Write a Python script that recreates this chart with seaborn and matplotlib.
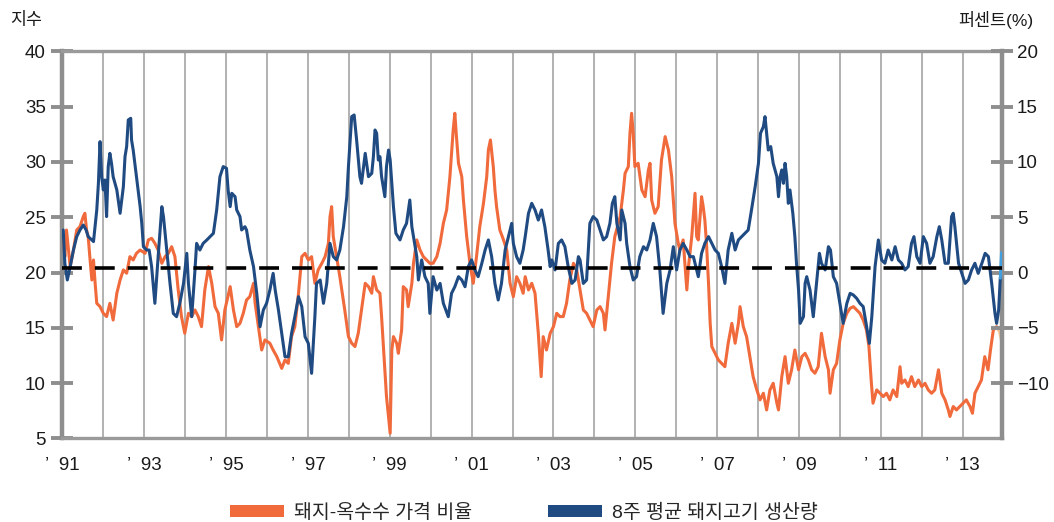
import matplotlib
matplotlib.use("Agg")
import matplotlib.pyplot as plt
import seaborn as sns
import pandas as pd
from matplotlib.patches import Patch

# ---------------- data ----------------
pig_years = [
    1991.02, 1991.06, 1991.10, 1991.15, 1991.19, 1991.27, 1991.35, 1991.43, 1991.51, 1991.55,
    1991.59, 1991.63, 1991.67, 1991.72, 1991.76, 1991.80, 1991.84, 1991.92, 1992.00, 1992.08,
    1992.16, 1992.24, 1992.33, 1992.41, 1992.49, 1992.57, 1992.65, 1992.73, 1992.81, 1992.90,
    1993.02, 1993.10, 1993.18, 1993.26, 1993.34, 1993.43, 1993.51, 1993.59, 1993.67, 1993.75,
    1993.83, 1993.91, 1993.99, 1994.08, 1994.16, 1994.24, 1994.32, 1994.40, 1994.48, 1994.57,
    1994.65, 1994.73, 1994.81, 1994.89, 1994.97, 1995.10, 1995.18, 1995.26, 1995.34, 1995.42,
    1995.50, 1995.58, 1995.67, 1995.71, 1995.79, 1995.87, 1995.95, 1996.07, 1996.15, 1996.24,
    1996.36, 1996.44, 1996.52, 1996.60, 1996.68, 1996.77, 1996.85, 1996.93, 1997.01, 1997.09,
    1997.17, 1997.25, 1997.34, 1997.42, 1997.50, 1997.54, 1997.58, 1997.62, 1997.70, 1997.78,
    1997.90, 1997.99, 1998.07, 1998.15, 1998.23, 1998.31, 1998.40, 1998.48, 1998.56, 1998.60,
    1998.68, 1998.76, 1998.80, 1998.88, 1998.92, 1998.97, 1999.01, 1999.05, 1999.09, 1999.17,
    1999.21, 1999.29, 1999.33, 1999.41, 1999.45, 1999.54, 1999.58, 1999.66, 1999.74, 1999.82,
    1999.90, 1999.98, 2000.06, 2000.15, 2000.23, 2000.31, 2000.39, 2000.47, 2000.55, 2000.59,
    2000.63, 2000.68, 2000.76, 2000.80, 2000.88, 2000.96, 2001.04, 2001.12, 2001.20, 2001.29,
    2001.37, 2001.41, 2001.46, 2001.53, 2001.57, 2001.61, 2001.69, 2001.78, 2001.86, 2001.94,
    2002.02, 2002.10, 2002.18, 2002.26, 2002.31, 2002.39, 2002.47, 2002.55, 2002.63, 2002.70,
    2002.75, 2002.83, 2002.92, 2003.00, 2003.08, 2003.16, 2003.24, 2003.32, 2003.40, 2003.49,
    2003.57, 2003.65, 2003.73, 2003.81, 2003.89, 2003.97, 2004.06, 2004.14, 2004.22, 2004.26,
    2004.34, 2004.42, 2004.50, 2004.63, 2004.71, 2004.75, 2004.83, 2004.87, 2004.91, 2004.95,
    2004.99, 2005.07, 2005.16, 2005.24, 2005.32, 2005.36, 2005.40, 2005.48, 2005.56, 2005.64,
    2005.73, 2005.81, 2005.89, 2005.97, 2006.05, 2006.09, 2006.17, 2006.26, 2006.30, 2006.38,
    2006.46, 2006.50, 2006.54, 2006.62, 2006.66, 2006.70, 2006.74, 2006.79, 2006.83, 2006.87,
    2006.95, 2007.03, 2007.11, 2007.19, 2007.27, 2007.36, 2007.44, 2007.52, 2007.56, 2007.64,
    2007.72, 2007.80, 2007.88, 2007.97, 2008.05, 2008.13, 2008.21, 2008.29, 2008.37, 2008.46,
    2008.50, 2008.58, 2008.66, 2008.74, 2008.82, 2008.90, 2008.99, 2009.07, 2009.15, 2009.23,
    2009.31, 2009.39, 2009.47, 2009.55, 2009.64, 2009.72, 2009.76, 2009.84, 2009.92, 2010.00,
    2010.08, 2010.17, 2010.25, 2010.33, 2010.41, 2010.49, 2010.57, 2010.65, 2010.71, 2010.77,
    2010.81, 2010.90, 2010.98, 2011.06, 2011.14, 2011.22, 2011.30, 2011.39, 2011.47, 2011.51,
    2011.59, 2011.67, 2011.75, 2011.83, 2011.92, 2012.00, 2012.08, 2012.16, 2012.24, 2012.32,
    2012.41, 2012.49, 2012.57, 2012.65, 2012.69, 2012.77, 2012.85, 2012.93, 2013.01, 2013.09,
    2013.18, 2013.24, 2013.30, 2013.38, 2013.46, 2013.54, 2013.62, 2013.68, 2013.75, 2013.83,
    2013.89,
]
pig_ratio = [
    23.25, 21.44, 23.85, 22.04, 20.54, 22.04, 23.85, 24.15, 25.06, 25.36,
    23.85, 23.25, 21.44, 19.33, 21.14, 19.03, 17.22, 16.92, 16.32, 16.02,
    17.22, 15.71, 18.13, 19.33, 20.24, 19.94, 21.44, 21.14, 21.74, 22.04,
    21.74, 22.95, 23.10, 22.65, 22.04, 20.84, 21.44, 21.74, 22.34, 21.44,
    18.43, 16.02, 14.51, 16.32, 16.02, 16.62, 16.02, 15.11, 18.43, 20.54,
    19.03, 16.92, 16.32, 13.91, 16.62, 18.73, 16.62, 15.11, 15.41, 16.32,
    17.52, 17.82, 19.03, 17.22, 15.11, 13.00, 13.91, 13.61, 13.00, 12.40,
    11.34, 12.10, 11.79, 14.21, 15.11, 18.13, 21.44, 21.74, 21.14, 21.44,
    19.03, 20.24, 20.84, 21.44, 22.65, 25.06, 25.96, 23.25, 21.44, 19.63,
    16.62, 14.21, 13.61, 13.31, 14.51, 16.62, 19.03, 18.73, 18.13, 19.63,
    18.43, 18.13, 16.02, 11.21, 8.80, 6.99, 5.47, 13.00, 14.21, 13.61,
    12.70, 14.81, 18.73, 18.43, 16.92, 19.03, 20.84, 22.95, 22.04, 21.44,
    21.14, 20.84, 20.84, 21.44, 22.65, 24.45, 25.66, 28.67, 32.89, 34.40,
    32.29, 29.88, 28.67, 26.56, 23.25, 20.84, 19.03, 21.44, 24.15, 26.26,
    28.67, 31.08, 31.99, 29.58, 27.47, 25.96, 23.85, 22.95, 22.04, 19.03,
    17.82, 19.63, 19.03, 18.13, 19.63, 18.43, 19.03, 18.13, 14.51, 10.59,
    14.21, 13.00, 14.51, 15.11, 16.32, 16.02, 16.02, 17.22, 19.33, 20.84,
    20.24, 18.43, 16.62, 16.32, 15.71, 15.11, 16.62, 16.92, 16.32, 14.81,
    17.82, 20.84, 23.25, 25.06, 27.47, 28.97, 29.58, 32.59, 34.40, 32.59,
    29.58, 29.88, 27.47, 26.86, 29.27, 29.88, 26.56, 25.36, 25.96, 30.18,
    32.29, 31.08, 28.67, 24.45, 22.65, 22.04, 22.95, 18.43, 20.54, 23.25,
    27.17, 23.25, 22.95, 26.86, 25.96, 24.75, 22.65, 19.03, 15.41, 13.31,
    12.70, 12.10, 11.79, 11.49, 13.61, 15.41, 13.61, 15.41, 16.92, 15.11,
    14.21, 12.40, 10.59, 9.39, 8.49, 9.09, 7.58, 9.39, 9.99, 8.19,
    7.58, 10.59, 12.40, 9.99, 11.21, 13.00, 11.21, 12.40, 12.70, 12.10,
    11.21, 10.90, 11.49, 14.51, 12.40, 11.21, 9.09, 11.21, 11.79, 13.91,
    15.41, 16.32, 16.77, 16.92, 16.62, 16.32, 15.71, 14.81, 13.31, 9.99,
    8.19, 9.39, 9.09, 8.79, 9.09, 8.49, 9.39, 8.79, 11.49, 9.99,
    10.29, 9.69, 10.59, 9.69, 10.29, 9.69, 9.99, 9.39, 9.09, 9.39,
    11.21, 9.09, 8.49, 7.58, 6.99, 7.89, 7.58, 7.89, 8.19, 8.49,
    7.89, 7.28, 9.09, 9.69, 10.29, 12.40, 11.21, 13.00, 14.81, 15.11,
    14.81,
]
pig_tail_years = [2013.89, 2013.95]
pig_tail_ratio = [14.81, 13.90]

prod_years = [
    1991.02, 1991.06, 1991.12, 1991.19, 1991.27, 1991.35, 1991.43, 1991.51, 1991.58, 1991.63,
    1991.72, 1991.76, 1991.84, 1991.88, 1991.92, 1991.96, 1992.00, 1992.04, 1992.08, 1992.12,
    1992.16, 1992.20, 1992.24, 1992.33, 1992.41, 1992.49, 1992.53, 1992.57, 1992.61, 1992.67,
    1992.69, 1992.73, 1992.81, 1992.90, 1992.94, 1992.98, 1993.06, 1993.12, 1993.18, 1993.26,
    1993.34, 1993.43, 1993.47, 1993.55, 1993.63, 1993.71, 1993.79, 1993.87, 1993.96, 1994.04,
    1994.08, 1994.16, 1994.24, 1994.28, 1994.36, 1994.44, 1994.53, 1994.61, 1994.69, 1994.77,
    1994.85, 1994.93, 1995.01, 1995.05, 1995.10, 1995.14, 1995.22, 1995.26, 1995.34, 1995.38,
    1995.46, 1995.50, 1995.58, 1995.67, 1995.75, 1995.83, 1995.91, 1995.99, 1996.07, 1996.15,
    1996.20, 1996.28, 1996.36, 1996.44, 1996.52, 1996.60, 1996.68, 1996.77, 1996.85, 1996.93,
    1997.01, 1997.09, 1997.17, 1997.21, 1997.30, 1997.38, 1997.46, 1997.54, 1997.62, 1997.70,
    1997.78, 1997.87, 1997.95, 1997.99, 1998.07, 1998.13, 1998.19, 1998.27, 1998.31, 1998.40,
    1998.48, 1998.56, 1998.60, 1998.64, 1998.68, 1998.72, 1998.76, 1998.80, 1998.88, 1998.92,
    1998.97, 1999.01, 1999.05, 1999.09, 1999.15, 1999.25, 1999.33, 1999.41, 1999.49, 1999.54,
    1999.58, 1999.66, 1999.70, 1999.78, 1999.86, 1999.94, 1999.98, 2000.06, 2000.15, 2000.23,
    2000.31, 2000.43, 2000.51, 2000.59, 2000.68, 2000.76, 2000.84, 2000.92, 2001.00, 2001.08,
    2001.16, 2001.25, 2001.33, 2001.41, 2001.49, 2001.57, 2001.65, 2001.73, 2001.82, 2001.90,
    2001.98, 2002.02, 2002.10, 2002.18, 2002.26, 2002.31, 2002.39, 2002.47, 2002.55, 2002.63,
    2002.71, 2002.79, 2002.87, 2002.92, 2002.96, 2003.04, 2003.12, 2003.20, 2003.28, 2003.36,
    2003.45, 2003.53, 2003.61, 2003.65, 2003.73, 2003.81, 2003.89, 2003.97, 2004.06, 2004.14,
    2004.22, 2004.30, 2004.38, 2004.44, 2004.50, 2004.55, 2004.63, 2004.67, 2004.75, 2004.79,
    2004.87, 2004.95, 2005.03, 2005.11, 2005.20, 2005.28, 2005.36, 2005.44, 2005.52, 2005.60,
    2005.68, 2005.77, 2005.85, 2005.93, 2006.01, 2006.09, 2006.17, 2006.26, 2006.34, 2006.42,
    2006.50, 2006.54, 2006.62, 2006.70, 2006.79, 2006.87, 2006.95, 2007.03, 2007.11, 2007.19,
    2007.27, 2007.36, 2007.44, 2007.52, 2007.60, 2007.68, 2007.76, 2007.84, 2007.93, 2008.01,
    2008.06, 2008.13, 2008.17, 2008.21, 2008.25, 2008.31, 2008.37, 2008.46, 2008.50, 2008.54,
    2008.58, 2008.62, 2008.66, 2008.70, 2008.74, 2008.78, 2008.85, 2008.90, 2008.94, 2008.99,
    2009.03, 2009.11, 2009.15, 2009.19, 2009.27, 2009.35, 2009.43, 2009.50, 2009.55, 2009.64,
    2009.72, 2009.77, 2009.84, 2009.92, 2010.00, 2010.08, 2010.17, 2010.25, 2010.33, 2010.41,
    2010.49, 2010.57, 2010.64, 2010.72, 2010.78, 2010.86, 2010.94, 2011.02, 2011.10, 2011.18,
    2011.27, 2011.35, 2011.43, 2011.51, 2011.59, 2011.67, 2011.75, 2011.81, 2011.88, 2011.96,
    2012.04, 2012.12, 2012.20, 2012.28, 2012.37, 2012.43, 2012.49, 2012.57, 2012.65, 2012.73,
    2012.77, 2012.81, 2012.90, 2012.98, 2013.06, 2013.14, 2013.22, 2013.30, 2013.38, 2013.47,
    2013.55, 2013.63, 2013.71, 2013.79, 2013.83, 2013.88, 2013.92,
]
prod_pct = [
    3.85, 0.84, -0.67, 0.54, 2.04, 3.25, 3.85, 4.30, 3.85, 3.25,
    2.95, 2.80, 5.66, 8.07, 11.84, 8.67, 7.47, 8.37, 5.06, 9.58,
    10.78, 9.88, 8.67, 7.47, 5.36, 7.77, 10.48, 11.39, 13.80, 13.95,
    11.99, 11.08, 8.67, 5.96, 4.45, 2.34, 2.04, 2.04, 0.54, -2.78,
    1.44, 5.96, 5.06, 2.04, -0.98, -3.69, -3.99, -2.78, -0.98, 1.74,
    -0.98, -3.99, 0.24, 2.64, 2.04, 2.64, 2.95, 3.25, 3.55, 5.66,
    8.67, 9.58, 9.43, 7.47, 5.96, 7.17, 6.86, 5.66, 5.06, 3.85,
    4.15, 3.85, 2.04, 0.54, -1.88, -4.90, -3.39, -2.78, -1.58, -0.07,
    -1.58, -3.39, -5.50, -7.61, -7.61, -5.50, -3.99, -2.18, -3.08, -5.80,
    -6.40, -9.11, -3.99, -0.98, -0.67, -2.78, -0.98, 2.64, 1.44, 1.14,
    2.04, 4.15, 6.86, 9.58, 14.10, 14.25, 11.99, 8.67, 8.07, 10.78,
    8.67, 8.97, 10.48, 12.89, 12.59, 10.18, 10.48, 8.67, 6.86, 9.58,
    11.08, 10.18, 8.07, 5.96, 3.55, 2.95, 3.85, 4.45, 6.56, 4.15,
    3.25, 1.44, -0.67, 1.14, -0.37, -0.98, -3.69, -0.37, -1.58, -0.98,
    -2.78, -3.99, -1.88, -1.28, -0.37, -0.67, -1.28, 0.54, 1.14, 0.24,
    -0.37, 0.84, 2.04, 2.95, 1.44, -0.98, -2.48, -0.98, 2.04, 3.25,
    4.45, 2.64, 1.44, 0.84, 2.04, 3.25, 5.36, 6.26, 5.66, 4.75,
    5.66, 4.15, 2.04, 0.54, 1.14, 0.24, 2.64, 2.95, 2.34, 0.54,
    -0.98, -0.67, 1.44, 1.14, -0.98, -0.67, 4.45, 5.06, 4.75, 3.85,
    2.95, 3.25, 4.45, 6.26, 6.86, 4.45, 2.95, 5.66, 4.45, 2.64,
    0.54, -0.67, -0.37, 1.44, 2.34, 2.04, 2.95, 4.45, 3.25, 0.24,
    -3.69, -0.98, 0.24, 2.34, 0.24, 2.04, 2.64, 2.04, 1.44, 1.44,
    0.24, -0.37, 1.74, 2.64, 3.25, 2.64, 2.04, 1.74, 0.54, -0.98,
    2.04, 3.55, 2.04, 2.95, 3.25, 3.55, 3.85, 5.66, 7.77, 9.88,
    12.59, 13.19, 14.10, 12.59, 11.08, 11.39, 9.88, 8.67, 6.86, 8.67,
    9.28, 8.07, 9.88, 8.67, 6.26, 7.47, 5.36, 3.25, 0.84, -1.58,
    -4.59, -3.99, -0.98, -0.37, -1.58, -3.99, -0.98, 1.74, 0.84, 0.24,
    2.34, 2.04, -0.37, -0.98, -2.78, -4.59, -2.78, -1.88, -2.03, -2.33,
    -2.78, -3.08, -4.59, -6.40, -3.99, 0.54, 2.95, 1.14, 0.84, 2.04,
    1.14, 2.34, 1.14, 0.84, 0.24, 0.54, 2.64, 3.25, 1.44, 0.84,
    3.25, 2.64, 0.84, 1.44, 3.25, 4.15, 2.95, 0.84, 0.84, 5.06,
    5.36, 4.15, 0.84, -0.07, -0.98, -0.67, 0.24, 0.84, -0.07, 0.84,
    1.74, 1.44, -0.98, -3.69, -4.59, -3.39, -0.50,
]
prod_tail_years = [2013.92, 2013.95]
prod_tail_pct = [-0.50, 1.80]

baseline_pct = 0.45

left_ticks = [5, 10, 15, 20, 25, 30, 35, 40]
right_ticks = [-10, -5, 0, 5, 10, 15, 20]
year_ticks = list(range(1991, 2014))
year_labels = ["\u2019  %02d" % (y % 100) if y % 2 == 1 else "" for y in year_ticks]
legend_labels = ["돼지-옥수수 가격 비율", "8주 평균 돼지고기 생산량"]
left_title = "지수"
right_title = "퍼센트(%)"

# ---------------- style ----------------
ORANGE = "#F06A3C"
NAVY = "#1F4B82"
ORANGE_TAIL = "#F7C79A"
NAVY_TAIL = "#42A0E0"
SPINE = "#8E8E8E"
GRID = "#ABABAB"

sns.set_style("white")
plt.rcParams["font.family"] = ["Liberation Sans", "Noto Sans CJK KR", "DejaVu Sans"]
plt.rcParams["axes.unicode_minus"] = True

fig = plt.figure(figsize=(10.54, 5.22), dpi=100)
ax = fig.add_axes([0.0592, 0.1600, 0.8912, 0.7416])
ax2 = ax.twinx()

pig_df = pd.DataFrame({"year": pig_years, "ratio": pig_ratio})
prod_df = pd.DataFrame({"year": prod_years, "pct": prod_pct})
pig_tail_df = pd.DataFrame({"year": pig_tail_years, "ratio": pig_tail_ratio})
prod_tail_df = pd.DataFrame({"year": prod_tail_years, "pct": prod_tail_pct})

sns.lineplot(data=pig_df, x="year", y="ratio", ax=ax, color=ORANGE, lw=2.2,
             estimator=None, sort=False, legend=False, zorder=3)
sns.lineplot(data=pig_tail_df, x="year", y="ratio", ax=ax, color=ORANGE_TAIL, lw=2.2,
             estimator=None, sort=False, legend=False, zorder=3)
sns.lineplot(data=prod_df, x="year", y="pct", ax=ax2, color=NAVY, lw=2.2,
             estimator=None, sort=False, legend=False, zorder=3)
sns.lineplot(data=prod_tail_df, x="year", y="pct", ax=ax2, color=NAVY_TAIL, lw=2.2,
             estimator=None, sort=False, legend=False, zorder=3)
ax2.axhline(baseline_pct, color="black", lw=2.6, dashes=(5.5, 3.6), zorder=5)

ax.set_xlim(1991, 2013.955)
ax.set_ylim(5, 40)
ax2.set_ylim(-15, 20)
for a in (ax, ax2):
    a.set_xlabel("")
    a.set_ylabel("")

ax.set_xticks(year_ticks)
ax.set_xticklabels(year_labels)
ax.set_yticks(left_ticks)
ax2.set_yticks(right_ticks)

ax.grid(False)
ax2.grid(False)
ax.xaxis.grid(True, color=GRID, lw=1.3)

ax.tick_params(axis="x", direction="out", length=6, width=1.3, color=GRID,
               labelsize=13.5, pad=7, labelcolor="#1a1a1a")
ax.tick_params(axis="y", direction="inout", length=16, width=2.8, color=SPINE,
               labelsize=13.5, pad=4, labelcolor="#1a1a1a")
ax2.tick_params(axis="y", direction="inout", length=16, width=2.8, color=SPINE,
                labelsize=13.5, pad=3, labelcolor="#1a1a1a")

for name, sp in ax.spines.items():
    sp.set_visible(name != "right")
    sp.set_color(SPINE)
ax.spines["left"].set_linewidth(3.2)
ax.spines["top"].set_linewidth(2.4)
ax.spines["bottom"].set_linewidth(2.4)
ax.spines["top"].set_color("#9A9A9A")
ax.spines["bottom"].set_color("#9A9A9A")
for name, sp in ax2.spines.items():
    sp.set_visible(name == "right")
ax2.spines["right"].set_color(SPINE)
ax2.spines["right"].set_linewidth(3.2)

fig.text(10 / 1054, 1 - 20 / 522, left_title, ha="left", va="center",
         fontsize=12.5, color="#1a1a1a")
fig.text(1033 / 1054, 1 - 20 / 522, right_title, ha="right", va="center",
         fontsize=12.5, color="#1a1a1a")

handles = [Patch(facecolor=ORANGE, edgecolor="none"), Patch(facecolor=NAVY, edgecolor="none")]
fig.legend(handles=handles, labels=legend_labels, loc="center",
           bbox_to_anchor=(0.497, 0.018), ncol=2, frameon=False, fontsize=14,
           handlelength=2.8, handleheight=0.55, handletextpad=0.5,
           columnspacing=3.9, borderpad=0)

fig.savefig("out.png", dpi=100)
